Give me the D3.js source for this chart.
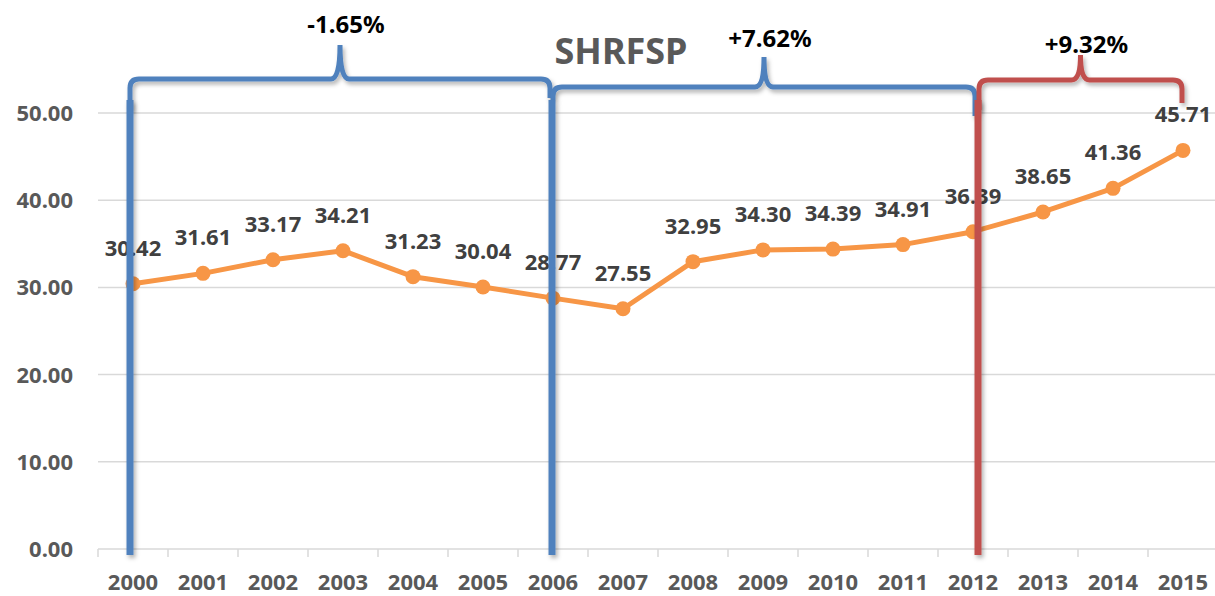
<!DOCTYPE html>
<html>
<head>
<meta charset="utf-8">
<script src="https://cdn.jsdelivr.net/npm/d3@7"></script>
<style>
  body { margin: 0; background: #fff; }
  svg { display: block; font-family: "Noto Sans", "Open Sans", sans-serif; font-weight: bold; }
</style>
</head>
<body>
<svg id="chart" width="1215" height="596"></svg>
<script>
const YEARS = ['2000', '2001', '2002', '2003', '2004', '2005', '2006', '2007',
  '2008', '2009', '2010', '2011', '2012', '2013', '2014', '2015'];
const VALUES = [30.42, 31.61, 33.17, 34.21, 31.23, 30.04, 28.77, 27.55,
  32.95, 34.30, 34.39, 34.91, 36.39, 38.65, 41.36, 45.71];
const Y_TICKS = [0, 10, 20, 30, 40, 50];
const TITLE = 'SHRFSP';
// periods marked with braces: [start year, end year, change label]
const PERIODS = [
  ['2000', '2006', '-1.65%'],
  ['2006', '2012', '+7.62%'],
  ['2012', '2015', '+9.32%'],
];

const BLUE = '#4f81bd';
const RED = '#c0504d';
const ORANGE = '#f79646';

const svg = d3.select('#chart');
const x = d3.scaleBand().domain(YEARS).range([98, 1218]);
const y = d3.scaleLinear().domain([0, 50]).range([549, 113]);
const cx = d => x(d) + x.bandwidth() / 2;

const defs = svg.append('defs');
const shadow = defs.append('filter').attr('id', 'shadow')
    .attr('filterUnits', 'userSpaceOnUse')
    .attr('x', 0).attr('y', 0).attr('width', 1215).attr('height', 596);
shadow.append('feDropShadow').attr('dx', 2).attr('dy', 3)
    .attr('stdDeviation', 2).attr('flood-color', '#000').attr('flood-opacity', 0.3);

// gridlines
svg.append('g').selectAll('line').data(Y_TICKS.slice(1)).join('line')
    .attr('x1', 98).attr('x2', 1218)
    .attr('y1', d => y(d)).attr('y2', d => y(d))
    .attr('stroke', '#d9d9d9').attr('stroke-width', 1.5);

// y labels
svg.append('g').selectAll('text').data(Y_TICKS).join('text')
    .attr('x', 73).attr('y', d => y(d) + 8)
    .attr('text-anchor', 'end').attr('font-size', 22).attr('fill', '#595959')
    .text(d => d.toFixed(2));

// x axis
const xAxis = svg.append('g');
xAxis.append('line').attr('x1', 98).attr('x2', 1218).attr('y1', y(0)).attr('y2', y(0))
    .attr('stroke', '#d9d9d9').attr('stroke-width', 1.5);
xAxis.selectAll('line.tick').data(YEARS).join('line').attr('class', 'tick')
    .attr('x1', d => x(d)).attr('x2', d => x(d))
    .attr('y1', y(0)).attr('y2', y(0) + 8)
    .attr('stroke', '#d9d9d9').attr('stroke-width', 1.5);
xAxis.selectAll('text').data(YEARS).join('text')
    .attr('x', d => cx(d)).attr('y', 590)
    .attr('text-anchor', 'middle').attr('font-size', 22).attr('fill', '#595959')
    .text(d => d);

// data labels
svg.append('g').selectAll('text').data(VALUES).join('text')
    .attr('x', (d, i) => cx(YEARS[i])).attr('y', d => y(d) - 28)
    .attr('text-anchor', 'middle').attr('font-size', 22).attr('fill', '#404040')
    .text(d => d.toFixed(2));

// line + markers
const line = d3.line().x((d, i) => cx(YEARS[i])).y(d => y(d));
svg.append('path').datum(VALUES)
    .attr('d', line).attr('fill', 'none')
    .attr('stroke', ORANGE).attr('stroke-width', 5).attr('stroke-linejoin', 'round');
svg.append('g').selectAll('circle').data(VALUES).join('circle')
    .attr('cx', (d, i) => cx(YEARS[i])).attr('cy', d => y(d)).attr('r', 7.5)
    .attr('fill', ORANGE);

// braces layout: x offsets of ends, top y, peak y, end depths, label baseline
const braceLayout = [
  {dx0: -3, dx1: -3, top: 79, peak: 45, end0: 110, end1: 98, label: 33, color: BLUE},
  {dx0: 0, dx1: 2, top: 87, peak: 57, end0: 100, end1: 116, label: 47, color: BLUE},
  {dx0: 6, dx1: -1, top: 80, peak: 55, end0: 110, end1: 103, label: 53, color: RED},
];
const vertOffsets = [-3, -1, 5];

const braceG = svg.append('g');
PERIODS.forEach((p, i) => {
  const L = braceLayout[i];
  const x0 = cx(p[0]) + L.dx0;
  const x1 = cx(p[1]) + L.dx1;
  const xm = (x0 + x1) / 2;
  const r = 9;
  const path = d3.path();
  path.moveTo(x0, L.end0);
  path.lineTo(x0, L.top + r);
  path.quadraticCurveTo(x0, L.top, x0 + r, L.top);
  path.lineTo(xm - 9, L.top);
  path.quadraticCurveTo(xm, L.top, xm, L.peak);
  path.quadraticCurveTo(xm, L.top, xm + 9, L.top);
  path.lineTo(x1 - r, L.top);
  path.quadraticCurveTo(x1, L.top, x1, L.top + r);
  path.lineTo(x1, L.end1);
  braceG.append('path').attr('d', path.toString())
      .attr('fill', 'none').attr('stroke', L.color).attr('stroke-width', 5)
      .attr('stroke-linecap', 'butt').attr('filter', 'url(#shadow)');
  braceG.append('text')
      .attr('x', xm + 6).attr('y', L.label)
      .attr('text-anchor', 'middle').attr('font-size', 24).attr('fill', '#000')
      .text(p[2]);
});

// vertical markers at period starts
PERIODS.forEach((p, i) => {
  const xv = cx(p[0]) + vertOffsets[i];
  braceG.append('line')
      .attr('x1', xv).attr('x2', xv).attr('y1', 100).attr('y2', 555)
      .attr('stroke', braceLayout[i].color).attr('stroke-width', 7)
      .attr('filter', 'url(#shadow)');
});

svg.append('text')
    .attr('x', 621).attr('y', 64)
    .attr('text-anchor', 'middle').attr('font-size', 36).attr('fill', '#595959')
    .text(TITLE);
</script>
</body>
</html>
